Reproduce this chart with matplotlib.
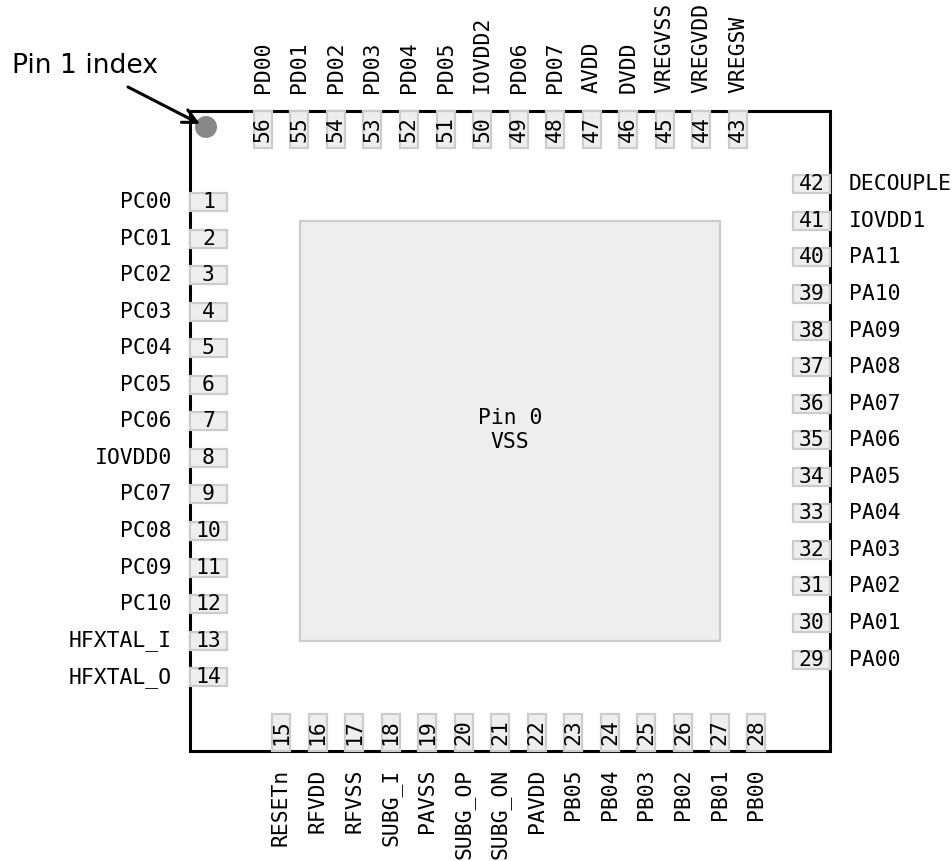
import matplotlib
matplotlib.use("Agg")
import matplotlib.pyplot as plt
from matplotlib.patches import Rectangle, Circle

left_pins = [1, 2, 3, 4, 5, 6, 7, 8, 9, 10, 11, 12, 13, 14]
left_names = ["PC00", "PC01", "PC02", "PC03", "PC04", "PC05", "PC06", "IOVDD0",
              "PC07", "PC08", "PC09", "PC10", "HFXTAL_I", "HFXTAL_O"]
bottom_pins = [15, 16, 17, 18, 19, 20, 21, 22, 23, 24, 25, 26, 27, 28]
bottom_names = ["RESETn", "RFVDD", "RFVSS", "SUBG_I", "PAVSS", "SUBG_OP", "SUBG_ON",
                "PAVDD", "PB05", "PB04", "PB03", "PB02", "PB01", "PB00"]
right_pins = [29, 30, 31, 32, 33, 34, 35, 36, 37, 38, 39, 40, 41, 42]
right_names = ["PA00", "PA01", "PA02", "PA03", "PA04", "PA05", "PA06", "PA07",
               "PA08", "PA09", "PA10", "PA11", "IOVDD1", "DECOUPLE"]
top_pins = [43, 44, 45, 46, 47, 48, 49, 50, 51, 52, 53, 54, 55, 56]
top_names = ["VREGSW", "VREGVDD", "VREGVSS", "DVDD", "AVDD", "PD07", "PD06", "IOVDD2",
             "PD05", "PD04", "PD03", "PD02", "PD01", "PD00"]

W, H = 953, 861
fig = plt.figure(figsize=(W / 100, H / 100), dpi=100)
ax = fig.add_axes([0, 0, 1, 1])
ax.set_xlim(0, W)
ax.set_ylim(H, 0)
ax.axis("off")

MONO = "DejaVu Sans Mono"
FS = 15.4
PITCH = 36.55
PAD_LEN, PAD_W = 37, 18
PAD_FC, PAD_EC = "#eeeeee", "#cccccc"
X0, X1, Y0, Y1 = 190, 830, 111, 751


def pad(x, y, w, h):
    ax.add_patch(Rectangle((x, y), w, h, fc=PAD_FC, ec=PAD_EC, lw=1.6, zorder=3))


ax.add_patch(Rectangle((X0, Y0), X1 - X0, Y1 - Y0, fc="white", ec="black", lw=2.2, zorder=1))
pad(300, 221, 420, 420)
ax.text(510, 430, "Pin 0\nVSS", family=MONO, fontsize=FS, ha="center", va="center", zorder=5)

for i, (p, n) in enumerate(zip(left_pins, left_names)):
    y = 202 + i * PITCH
    pad(X0, y - PAD_W / 2, PAD_LEN, PAD_W)
    ax.text(208.5, y, str(p), family=MONO, fontsize=FS, ha="center", va="center", zorder=5)
    ax.text(172, y, n, family=MONO, fontsize=FS, ha="right", va="center", zorder=5)

for i, (p, n) in enumerate(zip(bottom_pins, bottom_names)):
    x = 281 + i * PITCH
    pad(x - PAD_W / 2, Y1 - PAD_LEN, PAD_W, PAD_LEN)
    ax.text(x, 732.5, str(p), family=MONO, fontsize=FS, rotation=90, ha="center", va="center", zorder=5)
    ax.text(x, 769, n, family=MONO, fontsize=FS, rotation=90, ha="center", va="top", zorder=5)

for i, (p, n) in enumerate(zip(right_pins, right_names)):
    y = 659.5 - i * PITCH
    pad(X1 - PAD_LEN, y - PAD_W / 2, PAD_LEN, PAD_W)
    ax.text(811.5, y, str(p), family=MONO, fontsize=FS, ha="center", va="center", zorder=5)
    ax.text(849, y, n, family=MONO, fontsize=FS, ha="left", va="center", zorder=5)

for i, (p, n) in enumerate(zip(top_pins, top_names)):
    x = 738 - i * PITCH
    pad(x - PAD_W / 2, Y0, PAD_W, PAD_LEN)
    ax.text(x, 129.5, str(p), family=MONO, fontsize=FS, rotation=90, ha="center", va="center", zorder=5)
    ax.text(x, 93, n, family=MONO, fontsize=FS, rotation=90, ha="center", va="bottom", zorder=5)

ax.add_patch(Circle((206, 127), 11, fc="#888888", ec="none", zorder=4))
ax.text(12, 73, "Pin 1 index", fontsize=19.2, family="DejaVu Sans", ha="left", va="baseline", zorder=5)
ax.annotate("", xy=(200, 124), xytext=(128, 87),
            arrowprops=dict(arrowstyle="->,head_length=0.5,head_width=0.25", lw=2.2, color="black",
                            shrinkA=0, shrinkB=0, mutation_scale=20), zorder=6)

fig.savefig("out.png", dpi=100)
